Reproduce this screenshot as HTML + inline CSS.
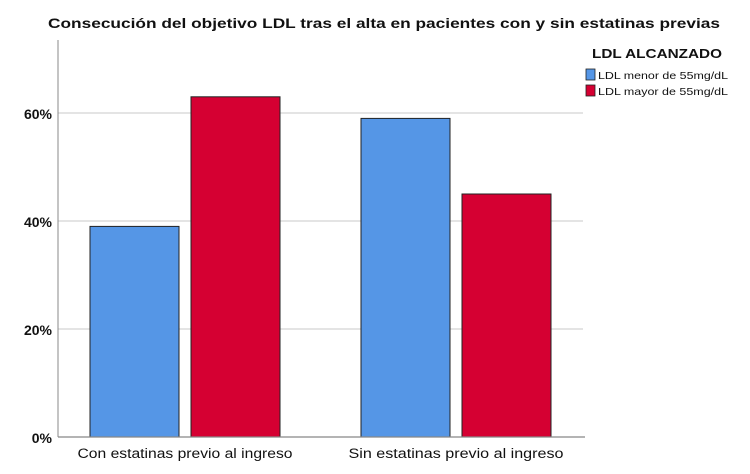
<!DOCTYPE html>
<html><head><meta charset="utf-8"><style>body{margin:0;background:#fff}svg{display:block;font-family:"Liberation Sans",sans-serif}</style></head>
<body>
<svg id="chart" width="750" height="474">
<text x="384" y="28" text-anchor="middle" font-size="14" font-weight="bold" fill="#111" textLength="672" lengthAdjust="spacingAndGlyphs">Consecución del objetivo LDL tras el alta en pacientes con y sin estatinas previas</text>
<g id="grid"></g><g id="bars"></g><g id="axes"></g>
<g>
<text x="592" y="58" font-size="13" font-weight="bold" fill="#111" textLength="130" lengthAdjust="spacingAndGlyphs">LDL ALCANZADO</text>
<rect x="586" y="69" width="9" height="11" fill="#5596e6" stroke="#222" stroke-width="0.8"/>
<text x="598" y="79" font-size="10.5" fill="#111" textLength="130" lengthAdjust="spacingAndGlyphs">LDL menor de 55mg/dL</text>
<rect x="586" y="85" width="9" height="11" fill="#d50032" stroke="#222" stroke-width="0.8"/>
<text x="598" y="95" font-size="10.5" fill="#111" textLength="130" lengthAdjust="spacingAndGlyphs">LDL mayor de 55mg/dL</text>
</g>
</svg>
<script>
const categories = ["Con estatinas previo al ingreso", "Sin estatinas previo al ingreso"];
const menorValues = [39, 59];
const mayorValues = [63, 45];
const yTicks = [0, 20, 40, 60];
const tickLabels = ["0%", "20%", "40%", "60%"];
const NS = "http://www.w3.org/2000/svg";
const x0 = 58, x1 = 585, yBase = 437, pxPer = 5.4;
const y = v => yBase - v * pxPer;
const catX = i => 185 + i * 271;
function mk(tag, attrs, parent){const e=document.createElementNS(NS,tag);for(const k in attrs)e.setAttribute(k,attrs[k]);document.getElementById(parent).appendChild(e);return e;}
yTicks.forEach((t,i)=>{
  if(t>0){const g=mk("line",{x1:x0,x2:583,y1:y(t),y2:y(t),stroke:"#c8c8c8","stroke-width":1},"grid");
  
  }
  const l=mk("text",{x:52,y:y(t)+6,"text-anchor":"end","font-size":"14","font-weight":"bold",fill:"#111"},"axes");
  l.textContent=tickLabels[i];
  
  
});
categories.forEach((c,i)=>{
  const cx=catX(i);
  [[menorValues[i],"#5596e6",-95,"bar-menor"],[mayorValues[i],"#d50032",6,"bar-mayor"]].forEach(([v,col,off,nm])=>{
    const r=mk("rect",{x:cx+off,y:y(v),width:89,height:yBase-y(v),fill:col,stroke:"#222","stroke-width":1},"bars");
    
    
  });
  const t=mk("text",{x:cx,y:458,"text-anchor":"middle","font-size":"13.5",fill:"#111",textLength:"215",lengthAdjust:"spacingAndGlyphs"},"axes");
  t.textContent=c;
  
  
});
const ya=mk("line",{x1:x0,x2:x0,y1:40,y2:yBase,stroke:"#888","stroke-width":1},"axes");


const xa=mk("line",{x1:x0,x2:x1,y1:yBase,y2:yBase,stroke:"#888","stroke-width":1.2},"axes");


</script>
</body></html>
